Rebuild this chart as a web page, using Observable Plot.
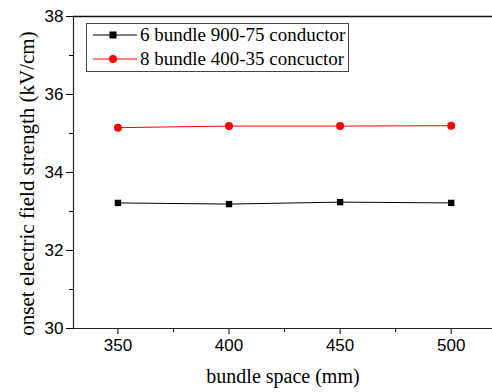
<!DOCTYPE html>
<html>
<head>
<meta charset="utf-8">
<script src="https://cdn.jsdelivr.net/npm/d3@7"></script>
<script src="https://cdn.jsdelivr.net/npm/@observablehq/plot@0.6"></script>
<style>
  html, body { margin: 0; padding: 0; background: #fff; }
  #chart { position: relative; width: 492px; height: 392px; }
  svg { font-family: "Liberation Sans", Arial, sans-serif; }
  g[aria-label="x-axis label"] text {
    font-family: "Liberation Serif", "Times New Roman", serif; font-size: 20px;
  }
  g[aria-label="y-axis label"] text {
    font-family: "Liberation Serif", "Times New Roman", serif; font-size: 21px;
  }
  #legend {
    position: absolute; left: 86px; top: 23px; width: 261px; height: 47px;
    border: 1px solid #444; background: #fff;
  }
  #legend .row { position: absolute; left: 0; height: 22px; display: flex; align-items: center; }
  #legend svg { display: block; }
  #legend span { margin-left: 1px; white-space: nowrap;
    font-family: "Liberation Serif", "Times New Roman", serif; font-size: 19px; color: #000; }
</style>
</head>
<body>
<div id="chart"></div>
<script>
const bundleSpace = [350, 400, 450, 500];
const seriesNames = ["6 bundle 900-75 conductor", "8 bundle 400-35 concuctor"];
const series6 = [33.22, 33.19, 33.24, 33.22];
const series8 = [35.15, 35.19, 35.19, 35.20];
const xTicks = [350, 400, 450, 500];
const xMinor = [375, 425, 475];
const yTicks = [30, 32, 34, 36, 38];
const yMinor = [31, 33, 35, 37];

const data = [
  ...bundleSpace.map((x, i) => ({x, y: series6[i], s: seriesNames[0]})),
  ...bundleSpace.map((x, i) => ({x, y: series8[i], s: seriesNames[1]}))
];
const d6 = data.filter(d => d.s === seriesNames[0]);
const d8 = data.filter(d => d.s === seriesNames[1]);

const plot = Plot.plot({
  width: 492,
  height: 392,
  marginLeft: 73,
  marginRight: 0,
  marginTop: 16,
  marginBottom: 64,
  x: {domain: [330, 518.6]},
  y: {domain: [30, 38]},
  marks: [
    Plot.axisX({ticks: xTicks, tickSize: 6, tickPadding: 4, fontSize: 17,
      label: "bundle space (mm)", labelAnchor: "center", labelArrow: "none", labelOffset: 54}),
    Plot.axisX({ticks: xMinor, tickSize: 4, text: null, label: null}),
    Plot.axisY({ticks: yTicks, tickSize: 7, tickPadding: 3, fontSize: 17,
      label: "onset electric field strength (kV/cm)", labelAnchor: "center", labelArrow: "none", labelOffset: 54}),
    Plot.axisY({ticks: yMinor, tickSize: 4, text: null, label: null}),
    Plot.ruleX([330], {stroke: "#222", strokeWidth: 1.2}),
    Plot.ruleY([30], {stroke: "#222", strokeWidth: 1.2}),
    Plot.ruleY([38], {stroke: "#111", strokeWidth: 1.5}),
    Plot.line(d6, {x: "x", y: "y", stroke: "#000", strokeWidth: 1}),
    Plot.line(d8, {x: "x", y: "y", stroke: "#ff0000", strokeWidth: 1}),
    Plot.dot(d6, {x: "x", y: "y", symbol: "square", r: 3.6, fill: "#000", stroke: "none"}),
    Plot.dot(d8, {x: "x", y: "y", symbol: "circle", r: 4, fill: "#ff0000", stroke: "none"})
  ]
});
// nudge the y-axis title downward along its rotated baseline
d3.select(plot).selectAll('g[aria-label="y-axis label"] text').attr("dx", -11);
const chart = document.getElementById("chart");
chart.appendChild(plot);

const legend = document.createElement("div");
legend.id = "legend";
const colors = ["#000", "#ff0000"];
const symbols = ["square", "circle"];
seriesNames.forEach((name, i) => {
  const row = document.createElement("div");
  row.className = "row";
  row.style.top = (i === 0 ? 0 : 24) + "px";
  const s = d3.create("svg").attr("width", 52).attr("height", 22);
  s.append("line").attr("x1", 6).attr("x2", 50).attr("y1", 11).attr("y2", 11)
    .attr("stroke", colors[i]).attr("stroke-width", 1);
  if (symbols[i] === "square") {
    s.append("rect").attr("x", 22.5).attr("y", 7.5).attr("width", 7).attr("height", 7).attr("fill", colors[i]);
  } else {
    s.append("circle").attr("cx", 26).attr("cy", 11).attr("r", 4).attr("fill", colors[i]);
  }
  row.appendChild(s.node());
  const t = document.createElement("span");
  t.textContent = name;
  row.appendChild(t);
  legend.appendChild(row);
});
chart.appendChild(legend);
</script>
</body>
</html>
